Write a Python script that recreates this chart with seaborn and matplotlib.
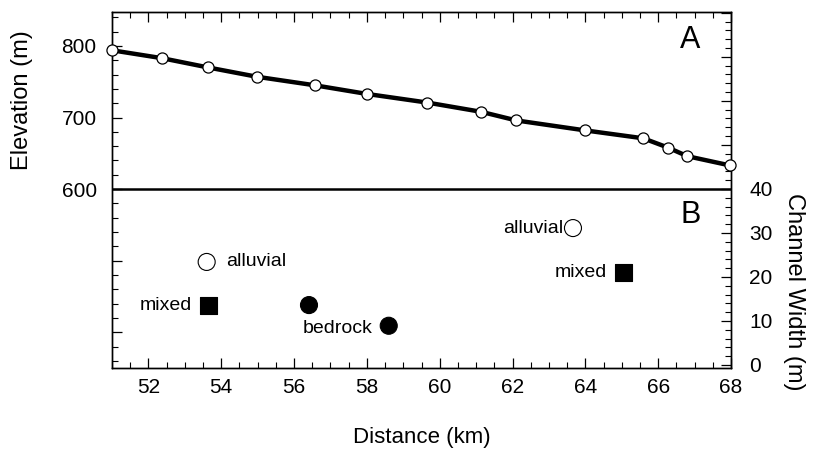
import matplotlib
matplotlib.use("Agg")
import matplotlib.pyplot as plt
import matplotlib.ticker as mticker
import seaborn as sns
import pandas as pd

# ---- data ----
dist_km = [51.0, 52.37, 53.64, 54.98, 56.58, 58.0, 59.65, 61.14, 62.1, 64.0, 65.59, 66.27, 66.8, 67.98]
elev_m = [794, 783, 770, 757, 745, 733, 721, 708, 696, 682, 671, 658, 646, 633]

width_dist = [53.6, 53.64, 56.41, 58.6, 63.66, 65.04]
width_m = [23.4, 13.6, 13.6, 8.9, 31.1, 20.9]
width_type = ["alluvial", "mixed", "bedrock", "bedrock", "alluvial", "mixed"]

elev_ticks = [400, 500, 600, 700, 800]
elev_labels = {600: "600", 700: "700", 800: "800"}
width_ticks = [0, 10, 20, 30, 40, 50, 60, 70, 80]
width_labels = {0: "0", 10: "10", 20: "20", 30: "30", 40: "40"}
x_ticks = [52, 54, 56, 58, 60, 62, 64, 66, 68]

sns.set_style("ticks")
plt.rcParams["font.family"] = ["Liberation Sans", "DejaVu Sans"]
plt.rcParams.update({"text.color": "black", "axes.labelcolor": "black",
                     "xtick.color": "black", "ytick.color": "black",
                     "axes.edgecolor": "black"})

fig = plt.figure(figsize=(8.14, 4.68), dpi=100)
ax = fig.add_axes([112 / 814, 1 - 368 / 468, 619 / 814, 356 / 468])

elev_df = pd.DataFrame({"dist": dist_km, "elev": elev_m})
sns.lineplot(data=elev_df, x="dist", y="elev", ax=ax, color="black", lw=3.2,
             marker="o", markersize=8, markerfacecolor="white",
             markeredgecolor="black", markeredgewidth=0.9, zorder=5, clip_on=False)
ax.axhline(600, color="black", lw=1.8, zorder=2)

ax.set_xlim(51, 68)
ax.set_ylim(350, 847.5)
ax.set_xticks(x_ticks)
ax.xaxis.set_minor_locator(mticker.MultipleLocator(0.5))
ax.set_yticks(elev_ticks)
ax.yaxis.set_major_formatter(mticker.FuncFormatter(lambda v, p: elev_labels.get(int(round(v)), "")))
ax.yaxis.set_minor_locator(mticker.MultipleLocator(20))
ax.tick_params(axis="both", which="both", direction="in", top=True, right=False)
ax.tick_params(axis="both", which="major", length=7, width=0.9, labelsize=15)
ax.tick_params(axis="both", which="minor", length=4, width=0.8)
ax.tick_params(axis="y", which="major", pad=11)
ax.tick_params(axis="x", which="major", pad=7)
ax.set_xlabel("Distance (km)", fontsize=16, labelpad=22)
ax.set_ylabel("Elevation (m)", fontsize=17)
ax.yaxis.set_label_coords(-0.128, 0.753)
for s in ax.spines.values():
    s.set_linewidth(1.0)
    s.set_color("black")

ax2 = ax.twinx()
ax.set_zorder(ax2.get_zorder() + 1)
ax.patch.set_visible(False)
w_df = pd.DataFrame({"dist": width_dist, "width": width_m, "type": width_type})
sns.scatterplot(data=w_df, x="dist", y="width", hue="type", style="type", ax=ax2,
                palette={"alluvial": "white", "mixed": "black", "bedrock": "black"},
                markers={"alluvial": "o", "mixed": "s", "bedrock": "o"},
                s=150, edgecolor="black", linewidth=0.8, legend=False, zorder=4)
ax2.set_ylim(-0.7, 80.2)
ax2.set_xlim(51, 68)
ax2.set_yticks(width_ticks)
ax2.yaxis.set_major_formatter(mticker.FuncFormatter(lambda v, p: width_labels.get(int(round(v)), "")))
ax2.yaxis.set_minor_locator(mticker.MultipleLocator(2))
ax2.tick_params(axis="y", which="both", direction="in")
ax2.tick_params(axis="y", which="major", length=7, width=0.9, labelsize=15, pad=13)
ax2.tick_params(axis="y", which="minor", length=4, width=0.8)
ax2.set_ylabel("Channel Width (m)", fontsize=17, rotation=270)
ax2.yaxis.set_label_coords(1.12, 0.2135)
ax2.set_xlabel("")
for s in ax2.spines.values():
    s.set_linewidth(1.0)
    s.set_color("black")

# annotations for widths
offsets = [(14, 0, "left"), (-12, 0, "right"), None, (-12, -2, "right"), (-7, 0, "right"), (-12, 0, "right")]
for (xv, yv, t), off in zip(zip(width_dist, width_m, width_type), offsets):
    if off is None:
        continue
    ax2.annotate(t, (xv, yv), xytext=(off[0], off[1]), textcoords="offset points",
                 ha=off[2], va="center", fontsize=14)

ax.text(0.934, 0.921, "A", transform=ax.transAxes, fontsize=22, ha="center", va="center")
ax.text(0.934, 0.43, "B", transform=ax.transAxes, fontsize=22, ha="center", va="center")

fig.savefig("out.png", dpi=100)
